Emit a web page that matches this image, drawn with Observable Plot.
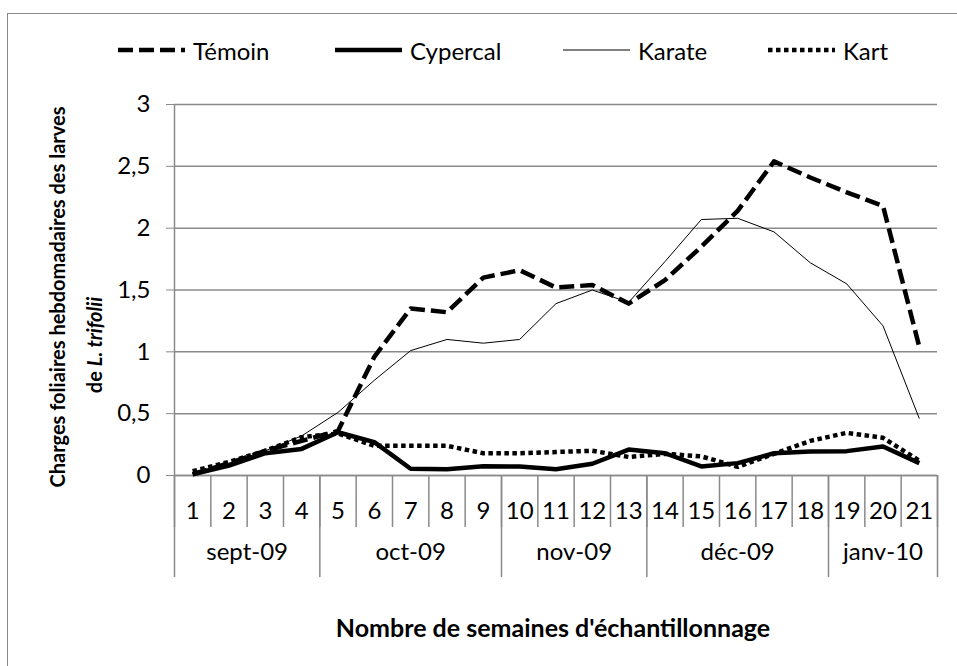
<!DOCTYPE html>
<html><head><meta charset="utf-8">
<script src="https://cdn.jsdelivr.net/npm/d3@7"></script>
<script src="https://cdn.jsdelivr.net/npm/@observablehq/plot@0.6"></script>
<style>
body{margin:0;background:#fff;font-family:Lato,"Open Sans",sans-serif;color:#000;}
#wrap{position:relative;width:957px;height:666px;overflow:hidden;background:#fff;}
#frame{position:absolute;left:7px;top:13px;width:1000px;height:700px;border-left:1.5px solid #888;border-top:1.5px solid #888;}
.item{position:absolute;top:36px;height:28px;display:flex;align-items:center;font-size:24px;white-space:nowrap;}
.item svg{display:block;margin-right:8px;}
#chart{position:absolute;left:0;top:80px;}
.yt{position:absolute;font-weight:bold;font-size:20px;white-space:nowrap;transform:translate(-50%,-50%) rotate(-90deg);}
#xtitle{position:absolute;left:553px;top:627px;transform:translate(-50%,-50%);font-weight:bold;font-size:25px;white-space:nowrap;}
</style></head>
<body><div id="wrap"><div id="frame"></div><div id="legend"></div>
<div class="yt" style="left:57px;top:297px;">Charges foliaires hebdomadaires des larves</div>
<div class="yt" style="left:94px;top:345px;">de <i>L. trifolii</i></div>
<div id="xtitle">Nombre de semaines d'échantillonnage</div>
<div id="chart"></div></div>
<script>
const weeks = d3.range(1, 22);
const temoin   = [0.01, 0.1, 0.2, 0.28, 0.36, 0.96, 1.35, 1.32, 1.6, 1.66, 1.52, 1.54, 1.39, 1.58, 1.85, 2.14, 2.54, 2.41, 2.29, 2.18, 1.04];
const cypercal = [0.01, 0.08, 0.18, 0.215, 0.35, 0.27, 0.055, 0.05, 0.075, 0.073, 0.05, 0.095, 0.21, 0.18, 0.073, 0.1, 0.18, 0.195, 0.197, 0.235, 0.1];
const karate   = [0.02, 0.1, 0.2, 0.32, 0.51, 0.77, 1.01, 1.1, 1.07, 1.1, 1.39, 1.5, 1.4, 1.73, 2.07, 2.08, 1.97, 1.72, 1.55, 1.21, 0.46];
const kart     = [0.035, 0.11, 0.2, 0.31, 0.34, 0.24, 0.24, 0.24, 0.18, 0.18, 0.19, 0.2, 0.15, 0.175, 0.155, 0.07, 0.175, 0.28, 0.345, 0.305, 0.12];
const months = ["sept-09", "oct-09", "nov-09", "déc-09", "janv-10"];
const monthWeeks = [[1,4],[5,9],[10,13],[14,18],[19,21]];
const yTicks = [0, 0.5, 1, 1.5, 2, 2.5, 3];

const styles = [
  {name:"Témoin", values:temoin, width:4.5, dash:"15 6", left:118},
  {name:"Cypercal", values:cypercal, width:4.5, dash:null, left:335},
  {name:"Karate", values:karate, width:1, dash:null, left:563},
  {name:"Kart", values:kart, width:4.5, dash:"4.5 3.5", left:768}
];
const data = styles.flatMap(s => s.values.map((v, i) => ({serie:s.name, week:weeks[i], value:v})));

// legend
const leg = document.getElementById("legend");
for (const s of styles) {
  const d = document.createElement("div");
  d.className = "item"; d.style.left = s.left + "px";
  d.innerHTML = `<svg width="67" height="10"><line x1="0" x2="67" y1="5" y2="5" stroke="#000" stroke-width="${s.width}" ${s.dash ? `stroke-dasharray="${s.dash}"` : ""}/></svg><span>${s.name}</span>`;
  leg.appendChild(d);
}

const gray = "#8a8a8a";
const sepWeeks = d3.range(0.5, 22, 1);
const sepMonths = [0.5, ...monthWeeks.map(m => m[1] + 0.5)];
const monthCenters = monthWeeks.map(m => (m[0] + m[1]) / 2);
const monthName = new Map(monthCenters.map((c, i) => [c, months[i]]));

const chart = Plot.plot({
  width: 957, height: 586,
  marginLeft: 174, marginRight: 20, marginTop: 24, marginBottom: 191,
  x: {type: "linear", domain: [0.5, 21.5]},
  y: {domain: [0, 3]},
  style: {fontFamily: "Lato, 'Open Sans', sans-serif", fontSize: "24px", color: "#000", background: "transparent", overflow: "visible"},
  marks: [
    Plot.gridY(yTicks, {stroke: gray, strokeOpacity: 1, strokeWidth: 1.5}),
    Plot.axisY(yTicks, {tickSize: 8, tickPadding: 16, stroke: gray, strokeOpacity: 1, label: null, fontSize: 24,
      tickFormat: d => String(d).replace(".", ",")}),
    Plot.ruleX([0.5], {stroke: gray, strokeWidth: 1.5}),
    Plot.ruleY([0], {stroke: gray, strokeWidth: 1.5}),
    Plot.axisX(sepWeeks, {tickSize: 52, tickFormat: () => "", stroke: gray, strokeOpacity: 1, strokeWidth: 1.5, label: null}),
    Plot.axisX(sepMonths, {tickSize: 102, tickFormat: () => "", stroke: gray, strokeOpacity: 1, strokeWidth: 1.5, label: null}),
    Plot.axisX(weeks, {tickSize: 0, tickPadding: 26, label: null, fontSize: 24, tickFormat: d => String(d)}),
    Plot.axisX(monthCenters, {tickSize: 0, tickPadding: 67, label: null, fontSize: 24, tickFormat: d => monthName.get(d)}),
    ...styles.map(s => Plot.line(data.filter(d => d.serie === s.name), {
      x: "week", y: "value", stroke: "#000", strokeWidth: s.width,
      strokeDasharray: s.dash ?? undefined, strokeLinejoin: "round", strokeLinecap: "butt"
    }))
  ]
});
document.getElementById("chart").appendChild(chart);
</script></body></html>
